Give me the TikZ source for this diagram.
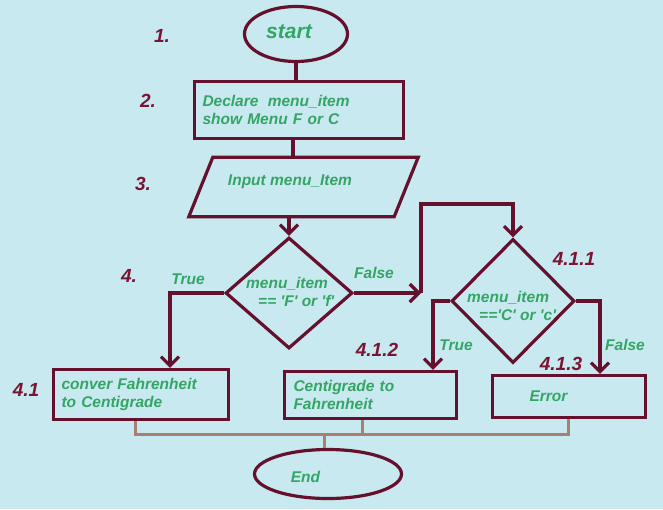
\documentclass[tikz,border=0pt]{standalone}
\usepackage{fontspec}
\newfontfamily\lsans{Liberation Sans}
\usetikzlibrary{shapes.geometric,arrows.meta,calc}
\definecolor{bgc}{HTML}{C7E9EF}
\definecolor{lnc}{HTML}{65112E}
\definecolor{numc}{HTML}{7A1432}
\definecolor{txc}{HTML}{35A565}
\definecolor{busc}{HTML}{A88070}
\newcommand\txfont{\lsans\bfseries\itshape\fontsize{15.5}{18}\selectfont}
\begin{document}
\begin{tikzpicture}[x=1pt,y=-1pt,
  shp/.style={draw=lnc, line width=3.2pt, text=txc, font=\txfont, inner sep=0pt},
  boxl/.style={shp, rectangle, align=left},
  num/.style={text=numc, font=\lsans\bfseries\itshape\fontsize{19}{22}\selectfont, inner sep=0pt},
  lbl/.style={text=txc, font=\txfont, inner sep=0pt},
  conn/.style={draw=lnc, line width=3.2pt},
  arr/.style={conn, -{Straight Barb[length=9pt,width=18pt]}},
  bus/.style={draw=busc, line width=3pt}]
\fill[bgc] (0,0) rectangle (663,509);
\useasboundingbox (0,0) rectangle (663,509);

% shapes
\node[shp, ellipse, minimum width=103pt, minimum height=55pt] (start) at (296,34) {};
\node[lbl, font=\lsans\bfseries\itshape\fontsize{21}{24}\selectfont] (starttxt) at (289,32) {start};

\node[boxl, minimum width=209pt, minimum height=57pt, text width=193pt, inner xsep=8pt] (decl) at (299,110)
  {Declare\hspace{0.6em}menu\_item\\show Menu F or C};

\node[inner sep=0pt, minimum width=205pt, minimum height=59pt] (input) at (303.5,187) {};
\draw[conn, line join=miter] ($(input.north west)+(12,0)$) -- ($(input.north east)+(12,0)$)
  -- ($(input.south east)+(-12,0)$) -- ($(input.south west)+(-12,0)$) -- cycle;
\node[lbl] (inputtxt) at (290,182) {Input menu\_Item};

\node[shp, diamond, minimum width=127pt, minimum height=111pt] (d1) at (289,293) {};
\node[lbl, align=left, anchor=west] (d1txt) at (246,292) {menu\_item\\\hspace{12pt}== 'F' or 'f'};

\node[shp, diamond, minimum width=123pt, minimum height=124pt] (d2) at (513,301) {};
\node[lbl, align=left, anchor=west] (d2txt) at (467,306) {menu\_item\\\hspace{12pt}=='C' or 'c'};

\node[boxl, minimum width=175pt, minimum height=50pt, text width=159pt, inner xsep=8pt] (box41) at (141,394.5)
  {conver Fahrenheit\\to Centigrade};
\node[boxl, minimum width=172pt, minimum height=47pt, text width=154pt, inner xsep=9pt] (box412) at (370.5,395)
  {Centigrade to\\Fahrenheit};
\node[boxl, minimum width=153pt, minimum height=42pt, text width=79pt, inner xsep=37pt] (box413) at (569,396.5)
  {Error};

\node[shp, ellipse, minimum width=147pt, minimum height=49pt] (end) at (328,474) {};
\node[lbl] (endtxt) at (305.5,477) {End};

% step numbers
\node[num] (n1) at (162,36) {1.};
\node[num] (n2) at (148,101) {2.};
\node[num] (n3) at (143,184) {3.};
\node[num] (n4) at (129,276) {4.};
\node[num] (n41) at (26,390) {4.1};
\node[num] (n411) at (574,259) {4.1.1};
\node[num] (n412) at (377,350) {4.1.2};
\node[num] (n413) at (561,364) {4.1.3};

% branch labels
\node[lbl] (t1) at (188,279) {True};
\node[lbl] (f1) at (374,273) {False};
\node[lbl] (t2) at (456,345) {True};
\node[lbl] (f2) at (625,345) {False};

% connectors
\draw[conn] (start.south) -- (start.south |- decl.north);
\draw[conn] ([xshift=-6pt]decl.south) -- ([xshift=-6pt]decl.south |- input.north);
\draw[arr] (input.south -| d1.north) -- (d1.north);
\draw[arr] (d1.west) -| ([xshift=29pt]box41.north);
\coordinate (j) at (421,293);
\coordinate (k) at (421,204);
\draw[arr] (d1.east) -- (j);
\draw[arr] (j) -- (k) -| (d2.north);
\draw[arr] (d2.west) -| ([xshift=62.5pt]box412.north);
\draw[arr] (d2.east) -| ([xshift=31pt]box413.north);

% bus to End
\coordinate (busL) at (135,434);
\coordinate (busR) at (568,434);
\draw[bus] (box41.south -| busL) -- (busL) -- (busR) -- (box413.south -| busR);
\draw[bus] ([xshift=-8.5pt]box412.south) -- ([xshift=-8.5pt]box412.south |- busL);
\draw[bus] ([xshift=-4pt]end.north |- busL) -- ([xshift=-4pt]end.north);
\end{tikzpicture}
\end{document}
